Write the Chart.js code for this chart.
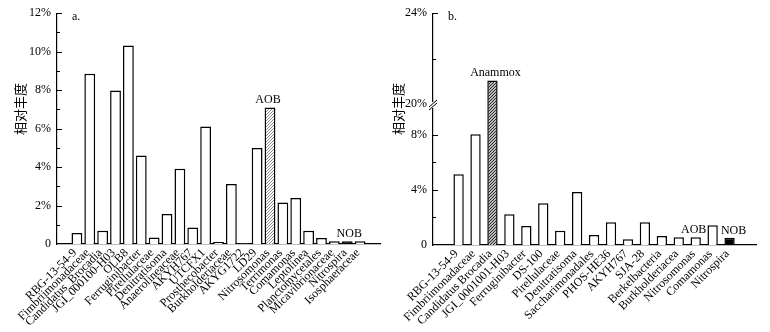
<!DOCTYPE html>
<html>
<head>
<meta charset="utf-8">
<script src="https://cdn.jsdelivr.net/npm/chart.js@4.4.0/dist/chart.umd.min.js"></script>
<style>
  body { margin: 0; background: #fff; }
  #wrap { position: relative; width: 770px; height: 332px; }
  canvas { position: absolute; left: 0; top: 0; }
</style>
</head>
<body>
<div id="wrap">
  <canvas id="chartA" width="770" height="332"></canvas>
  <canvas id="chartB" width="770" height="332"></canvas>
</div>
<script>
// panel a
var labelsA = ['RBG-13-54-9', 'Fimbriimonadaceae', 'Candidatus_Brocadia', 'JGI_000100-H03', 'OLB8',
  'Ferruginibacter', 'Pirellulaceae', 'Denitratisoma', 'Anaerolineaceae', 'AKYH767', 'UTCFX1',
  'Prosthecobacter', 'Burkholderiaceae', 'AKYG1722', 'LD29', 'Nitrosomonas', 'Terrimonas',
  'Comamonas', 'Leptolinea', 'Planctomycetales', 'Micavibrionaceae', 'Nitrospira', 'Isosphaeraceae'];
var valuesA = [0.57, 8.85, 0.69, 7.98, 10.32, 4.6, 0.34, 1.56, 3.91, 0.86, 6.11,
  0.1, 3.12, 0.03, 4.99, 7.1, 2.16, 2.39, 0.69, 0.31, 0.14, 0.14, 0.14];
var ticksA = [0, 2, 4, 6, 8, 10, 12];
var minorA = [1, 3, 5, 7, 9, 11];

// panel b (broken axis 10% -> 20%)
var labelsB = ['RBG-13-54-9', 'Fimbriimonadaceae', 'Candidatus Brocadia', 'JGI_0001001-H03',
  'Ferruginibacter', 'DS-100', 'Pirellulaceae', 'Denitratisoma', 'Saccharimonadales', 'PHOS-HE36',
  'AKYH767', 'SJA-28', 'Berkelbacteria', 'Burkholderiacea', 'Nitrosomonas', 'Comamonas', 'Nitrospira'];
var valuesB = [5.14, 8.05, 21.04, 2.23, 1.38, 3.03, 1.04, 3.85, 0.73, 1.65,
  0.41, 1.65, 0.65, 0.56, 0.56, 1.43, 0.53];
var ticksB = [0, 4, 8, 20, 24];
var minorB = [2, 6, 22];

var serif = '"Liberation Serif", "Times New Roman", serif';
Chart.defaults.color = '#000';
Chart.defaults.font.family = serif;

// maps a percentage onto the broken axis
function breakY(v) {
  return v <= 10 ? v : 10.25 + (v - 20) * 1.65;
}
function same(v) { return v; }

function hatch(fg, gap, lw) {
  var c = document.createElement('canvas');
  c.width = gap; c.height = gap;
  var g = c.getContext('2d');
  g.fillStyle = '#fff';
  g.fillRect(0, 0, gap, gap);
  g.strokeStyle = fg;
  g.lineWidth = lw;
  g.beginPath();
  g.moveTo(0, gap); g.lineTo(gap, 0);
  g.moveTo(-1, 1); g.lineTo(1, -1);
  g.moveTo(gap - 1, gap + 1); g.lineTo(gap + 1, gap - 1);
  g.stroke();
  return g.createPattern(c, 'repeat');
}

// per-canvas settings, kept out of the chart options so nothing gets resolved as scriptable
var panels = {};

// inward tick marks, axis break, axis title and notes
var decor = {
  id: 'decor',
  afterDraw: function(chart) {
    var o = panels[chart.canvas.id];
    var ctx = chart.ctx, y = chart.scales.y, a = chart.chartArea;
    var meta = chart.getDatasetMeta(0);
    ctx.save();
    ctx.strokeStyle = '#000';
    ctx.lineWidth = 1;
    o.major.forEach(function(v) {
      if (v === 0 || v === 20) return;
      var py = Math.round(y.getPixelForValue(o.map(v))) + 0.5;
      ctx.beginPath(); ctx.moveTo(a.left, py); ctx.lineTo(a.left + 5, py); ctx.stroke();
    });
    o.minor.forEach(function(v) {
      var py = Math.round(y.getPixelForValue(o.map(v))) + 0.5;
      ctx.beginPath(); ctx.moveTo(a.left, py); ctx.lineTo(a.left + 3, py); ctx.stroke();
    });
    if (o.gap) {
      ctx.fillStyle = '#fff';
      ctx.fillRect(a.left - 2, o.gap[0], 4, o.gap[1] - o.gap[0]);
      ctx.beginPath();
      ctx.moveTo(a.left - 4, o.gap[1] - 1); ctx.lineTo(a.left + 4, o.gap[0] - 2);
      ctx.moveTo(a.left - 4, o.gap[1] + 2); ctx.lineTo(a.left + 4, o.gap[0] + 1);
      ctx.stroke();
    }
    ctx.fillStyle = '#000';
    ctx.font = '12px ' + serif;
    ctx.textAlign = 'left';
    ctx.textBaseline = 'alphabetic';
    ctx.fillText(o.tag, a.left + 15, 20);
    ctx.textAlign = 'center';
    o.notes.forEach(function(n) {
      var bar = meta.data[n[1]];
      ctx.fillText(n[0], bar.x + n[2], bar.y - 4);
    });
    ctx.translate(o.titleX, 109);
    ctx.rotate(-Math.PI / 2);
    ctx.font = '13px "Noto Sans CJK SC"';
    ctx.textBaseline = 'middle';
    ctx.fillText('相对丰度', 0, 0);
    ctx.restore();
  }
};

function makeChart(id, labels, values, fills, o) {
  panels[id] = o;
  new Chart(document.getElementById(id), {
    type: 'bar',
    data: {
      datasets: [{
        data: values.map(function(v, i) { return { x: i, y: o.map(v) }; }),
        backgroundColor: fills,
        borderColor: '#000',
        borderWidth: 1.5,
        barPercentage: o.barPct,
        categoryPercentage: 1
      }]
    },
    options: {
      responsive: false,
      animation: false,
      layout: { padding: o.padding },
      plugins: { legend: { display: false }, tooltip: { enabled: false } },
      scales: {
        x: {
          type: 'linear',
          min: o.xMin,
          max: labels.length,
          afterBuildTicks: function(s) {
            s.ticks = labels.map(function(l, i) { return { value: i }; });
          },
          afterFit: function(s) { s.height = o.xHeight; },
          grid: { display: false, drawTicks: false, tickLength: 0 },
          border: { color: '#000', width: 1.2 },
          ticks: {
            autoSkip: false,
            minRotation: 45,
            maxRotation: 45,
            padding: 2,
            labelOffset: -2,
            font: { size: 12 },
            callback: function(v) { return labels[v]; }
          }
        },
        y: {
          min: 0,
          max: o.map(o.major[o.major.length - 1]),
          afterBuildTicks: function(s) {
            s.ticks = o.major.map(function(v) { return { value: o.map(v) }; });
          },
          afterFit: function(s) { s.width = o.yWidth; },
          grid: { display: false, drawTicks: false, tickLength: 0 },
          border: { color: '#000', width: 1.2 },
          ticks: {
            padding: 6,
            font: { size: 12 },
            callback: function(v, i) { return o.major[i] === 0 ? '0' : o.major[i] + '%'; }
          }
        }
      }
    },
    plugins: [decor]
  });
}

var fillsA = labelsA.map(function(l) {
  if (l === 'Nitrosomonas') return hatch('#777', 3, 0.9);
  if (l === 'Nitrospira') return '#000';
  return '#fff';
});
var fillsB = labelsB.map(function(l) {
  if (l === 'Candidatus Brocadia') return hatch('#222', 3, 1.2);
  if (l === 'Nitrospira') return '#000';
  return '#fff';
});

makeChart('chartA', labelsA, valuesA, fillsA, {
  map: same,
  major: ticksA, minor: minorA,
  padding: { top: 13, left: 0, right: 390, bottom: 0 },
  xMin: -1, xHeight: 88, yWidth: 57, barPct: 0.84,
  tag: 'a.', titleX: 20,
  notes: [['AOB', 15, -2], ['NOB', 21, 2]]
});

makeChart('chartB', labelsB, valuesB, fillsB, {
  map: breakY,
  major: ticksB, minor: minorB,
  padding: { top: 13, left: 390, right: 14, bottom: 0 },
  xMin: -0.95, xHeight: 87, yWidth: 43, barPct: 0.61,
  tag: 'b.', titleX: 398, gap: [102, 108],
  notes: [['Anammox', 2, 3], ['AOB', 14, -2], ['NOB', 16, 4]]
});
</script>
</body>
</html>
